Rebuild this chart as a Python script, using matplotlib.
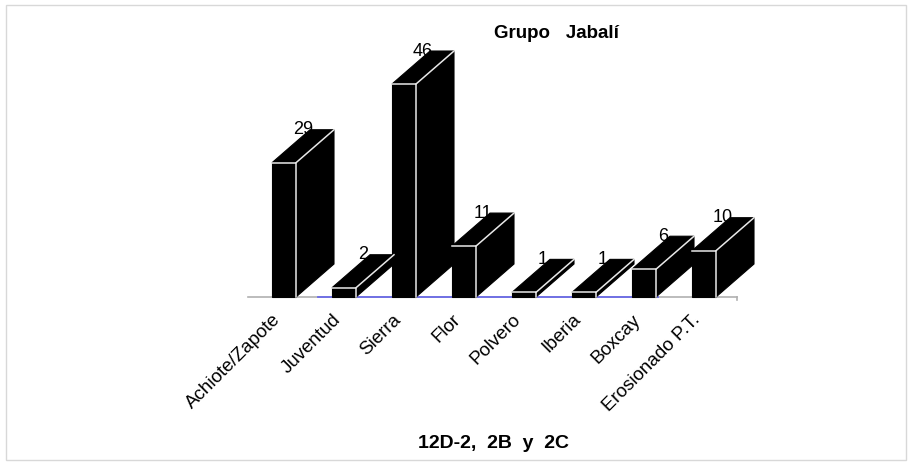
import matplotlib
matplotlib.use("Agg")
import matplotlib.pyplot as plt
from matplotlib.patches import Polygon, Rectangle

plt.rcParams['font.family'] = ['Liberation Sans', 'DejaVu Sans']

categories = ["Achiote/Zapote", "Juventud", "Sierra", "Flor", "Polvero",
              "Iberia", "Boxcay", "Erosionado P.T."]
values = [29, 2, 46, 11, 1, 1, 6, 10]
title = "Grupo   Jabalí"
xlabel = "12D-2,  2B  y  2C"

W, H = 913, 468
fig = plt.figure(figsize=(W / 100, H / 100), dpi=100)

# axes geometry (pixels)
px_left, px_right = 240, 780
px_top, px_base = 40, 297
ax = fig.add_axes([px_left / W, 1 - px_base / H, (px_right - px_left) / W,
                   (px_base - px_top) / H])
unit_px = 60.0
xc0 = 284.0
ax.set_xlim((px_left - xc0) / unit_px, (px_right - xc0) / unit_px)
val_px = 4.63
ax.set_ylim(0, (px_base - px_top) / val_px)
ax.axis('off')

bw = 24 / unit_px          # front width
ddx = 38 / unit_px         # depth offset x
ddy = 33 / val_px          # depth offset y

# baseline
ax.plot([-0.6, 7.55], [0, 0], color='#b0b0b0', lw=1.2, clip_on=False, zorder=1)
ax.plot([7.55, 7.55], [0, -0.6], color='#b0b0b0', lw=1.2, clip_on=False, zorder=1)
ax.plot([0.57, 6.23], [0, 0], color='#6a6ae8', lw=1.3, clip_on=False, zorder=1)

for i, v in enumerate(values):
    x0 = i - bw / 2
    x1 = i + bw / 2
    front = [(x0, 0), (x1, 0), (x1, v), (x0, v)]
    side = [(x1, 0), (x1 + ddx, ddy), (x1 + ddx, v + ddy), (x1, v)]
    top = [(x0, v), (x1, v), (x1 + ddx, v + ddy), (x0 + ddx, v + ddy)]
    for poly in (side, top, front):
        ax.add_patch(Polygon(poly, closed=True, facecolor='black',
                             edgecolor='black', lw=0.8, clip_on=False, zorder=3))
    # internal white edges
    ax.plot([x0, x1, x1], [v, v, 0], color='#e8e8e8', lw=1.1, clip_on=False, zorder=4)
    ax.plot([x1, x1 + ddx], [v, v + ddy], color='#e8e8e8', lw=1.1, clip_on=False, zorder=4)
    ax.text(i + ddx / 2, v + ddy, str(v), ha='center', va='center',
            fontsize=13, color='black', zorder=5)
    ax.annotate(categories[i], xy=(i, 0), xytext=(-12, -14),
                textcoords='offset pixels', rotation=45, ha='right', va='top',
                rotation_mode='anchor', fontsize=13.5, annotation_clip=False)

fig.text(556 / W, 1 - 33 / H, title, ha='center', va='center',
         fontsize=13.5, fontweight='bold')
fig.text(493 / W, 1 - 443 / H, xlabel, ha='center', va='center',
         fontsize=14, fontweight='bold')

# outer frame
fig.add_artist(Rectangle((6 / W, 1 - 460 / H), 900 / W, 455 / H,
                         transform=fig.transFigure, fill=False,
                         edgecolor='#d8d8d8', lw=1.0))

fig.savefig("out.png", dpi=100)
